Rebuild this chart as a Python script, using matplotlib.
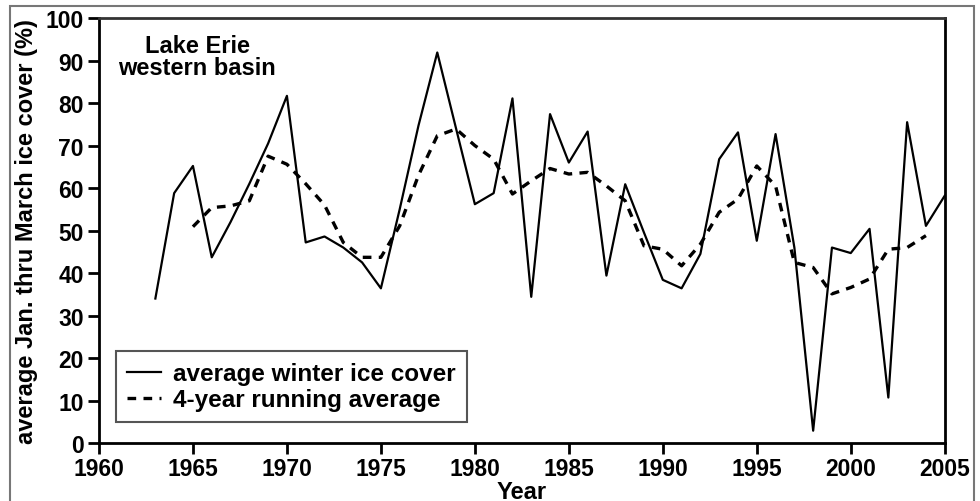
import matplotlib
matplotlib.use("Agg")
import matplotlib.pyplot as plt
from matplotlib.patches import Rectangle

plt.rcParams["font.family"] = ["Liberation Sans", "DejaVu Sans"]
plt.rcParams["font.weight"] = "bold"
plt.rcParams["axes.labelweight"] = "bold"

# Yearly average Jan-Mar ice cover, Lake Erie western basin (%)
years = list(range(1963, 2006))
ice_cover = [34.0, 58.8, 65.2, 43.7, 52.0, 61.0, 70.5, 81.7, 47.2, 48.6,
             46.0, 42.5, 36.4, 55.0, 74.7, 91.9, 74.0, 56.2, 58.8, 81.1,
             34.4, 77.4, 66.0, 73.3, 39.4, 60.9, 49.5, 38.4, 36.4, 44.5,
             66.8, 73.1, 47.6, 72.7, 46.0, 2.9, 46.0, 44.7, 50.4, 10.7,
             75.5, 51.1, 58.2]

# 4-year running average
avg_years = list(range(1965, 2005))
running_avg = [50.9, 55.4, 55.8, 57.0, 67.5, 65.6, 61.0, 56.0, 47.2, 43.7,
               43.7, 51.1, 63.0, 72.3, 73.9, 70.0, 66.8, 58.6, 61.7, 64.6,
               63.3, 63.7, 60.5, 57.0, 46.4, 45.6, 41.7, 46.8, 54.3, 57.4,
               65.2, 60.5, 42.5, 41.3, 35.1, 36.6, 38.6, 45.6, 46.0, 48.8]

fig = plt.figure(figsize=(9.8, 5.02), dpi=100)
ax = fig.add_axes([0.101, 0.1155, 0.863, 0.8465])

ax.plot(years, ice_cover, color="black", lw=1.6, label="average winter ice cover")
ax.plot(avg_years, running_avg, color="black", lw=2.4, dashes=(2.6, 2.2),
        label="4-year running average")

ax.set_xlim(1960, 2005)
ax.set_ylim(0, 100)
ax.set_xticks(range(1960, 2006, 5))
ax.set_yticks(range(0, 101, 10))
ax.tick_params(axis="both", direction="out", length=8, width=2, labelsize=16.5)
ax.tick_params(axis="x", pad=2)
ax.tick_params(axis="y", pad=3)
ax.tick_params(top=False, right=False)
for s in ax.spines.values():
    s.set_linewidth(2)
    s.set_color("black")
ax.spines["top"].set_color("#333333")

ax.set_ylabel("average Jan. thru March ice cover (%)", fontsize=17)
ax.yaxis.set_label_coords(-0.072, 0.5)
ax.set_xlabel("Year", fontsize=17)
ax.xaxis.set_label_coords(0.5, -0.086)

ax.text(0.116, 0.91, "Lake Erie\nwestern basin", transform=ax.transAxes,
        ha="center", va="center", fontsize=17, linespacing=0.95)

leg = ax.legend(loc="lower left", bbox_to_anchor=(0.020, 0.049), borderaxespad=0,
                fontsize=17.5, handlelength=1.4, handletextpad=0.5,
                borderpad=0.45, labelspacing=0.12, fancybox=False,
                framealpha=1)
leg.get_frame().set_edgecolor("#555555")
leg.get_frame().set_linewidth(1.5)

# grey outer frame
fig.patches.append(Rectangle((0.0102, -0.05), 0.9837, 1.036, transform=fig.transFigure,
                             fill=False, edgecolor="#777777", lw=1.5, clip_on=False))

fig.savefig("out.png", dpi=100)
